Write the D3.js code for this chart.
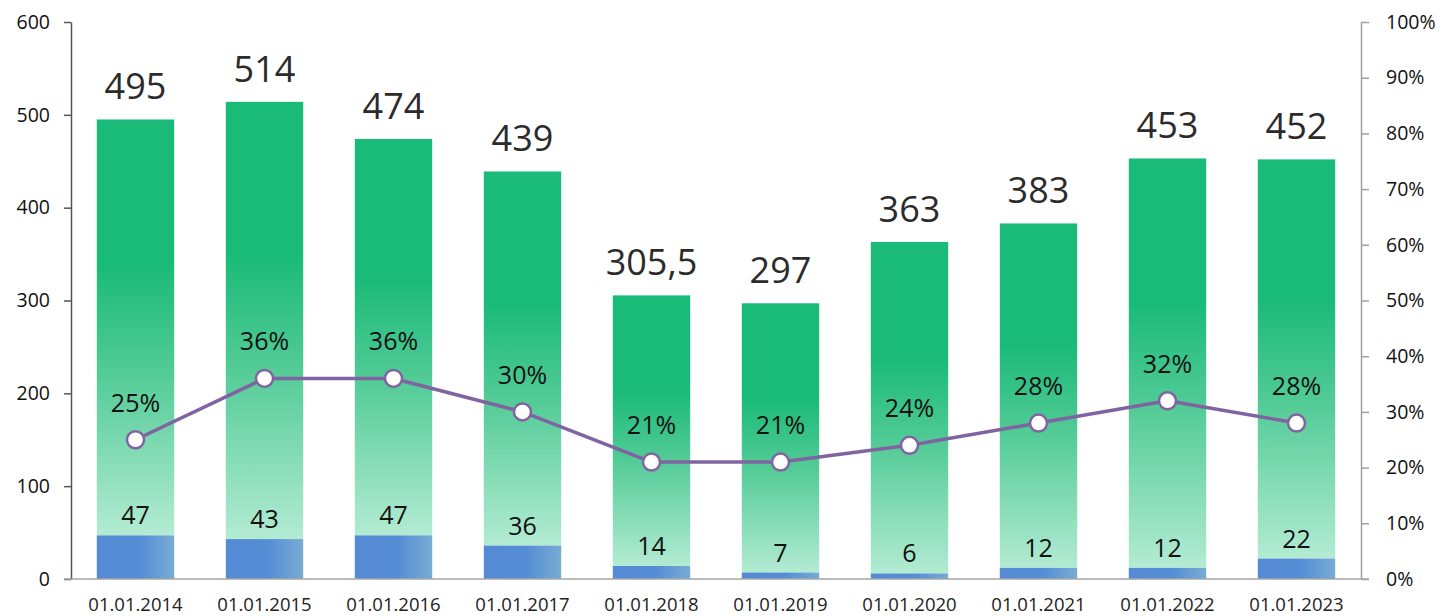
<!DOCTYPE html>
<html>
<head>
<meta charset="utf-8">
<script src="https://cdn.jsdelivr.net/npm/d3@7"></script>
<style>
  html, body { margin: 0; padding: 0; background: #fff; }
  svg { display: block; font-family: "Open Sans", sans-serif; }
</style>
</head>
<body>
<svg id="chart" width="1447" height="616"></svg>
<script>
// Dates of each observation
const categories = ["01.01.2014", "01.01.2015", "01.01.2016", "01.01.2017", "01.01.2018",
                    "01.01.2019", "01.01.2020", "01.01.2021", "01.01.2022", "01.01.2023"];
// Total volume (full bar height)
const totals = [495, 514, 474, 439, 305.5, 297, 363, 383, 453, 452];
// Bottom segment of each bar
const baseValues = [47, 43, 47, 36, 14, 7, 6, 12, 12, 22];
// Share, plotted on the right axis
const shares = [0.25, 0.36, 0.36, 0.30, 0.21, 0.21, 0.24, 0.28, 0.32, 0.28];
// Axis ticks
const leftTicks = [0, 100, 200, 300, 400, 500, 600];
const rightTicks = [0, 0.1, 0.2, 0.3, 0.4, 0.5, 0.6, 0.7, 0.8, 0.9, 1.0];

const svg = d3.select("#chart");
const plot = { left: 71, right: 1361, top: 22, bottom: 579 };

const x = d3.scaleBand().domain(categories).range([plot.left, plot.right])
  .paddingInner(0.4).paddingOuter(0.2);
const y = d3.scaleLinear().domain([0, 600]).range([plot.bottom, plot.top]);
const yP = d3.scaleLinear().domain([0, 1]).range([plot.bottom, plot.top]);

const fmtNum = v => String(v).replace(".", ",");

// Gradients
const defs = svg.append("defs");
const gGreen = defs.append("linearGradient").attr("id", "gradGreen")
  .attr("x1", 0).attr("y1", 0).attr("x2", 0).attr("y2", 1);
gGreen.append("stop").attr("offset", "0").attr("stop-color", "#1aba78");
gGreen.append("stop").attr("offset", "0.35").attr("stop-color", "#1aba78");
gGreen.append("stop").attr("offset", "0.62").attr("stop-color", "#55cc98");
gGreen.append("stop").attr("offset", "1").attr("stop-color", "#b3ebd3");

const gBlue = defs.append("linearGradient").attr("id", "gradBlue")
  .attr("x1", 0).attr("y1", 0).attr("x2", 1).attr("y2", 0);
gBlue.append("stop").attr("offset", "0").attr("stop-color", "#558bd4");
gBlue.append("stop").attr("offset", "0.55").attr("stop-color", "#558dd5");
gBlue.append("stop").attr("offset", "1").attr("stop-color", "#78acd3");

const rows = categories.map((c, i) => ({ c, total: totals[i], base: baseValues[i], share: shares[i] }));

// Upper (green) segment
svg.append("g").selectAll("rect").data(rows).join("rect")
  .attr("x", d => x(d.c))
  .attr("width", x.bandwidth())
  .attr("y", d => y(d.total))
  .attr("height", d => y(d.base) - y(d.total))
  .attr("fill", "url(#gradGreen)");

// Lower (blue) segment
svg.append("g").selectAll("rect").data(rows).join("rect")
  .attr("x", d => x(d.c))
  .attr("width", x.bandwidth())
  .attr("y", d => y(d.base))
  .attr("height", d => y(0) - y(d.base))
  .attr("fill", "url(#gradBlue)");

// Left axis
const axL = svg.append("g").attr("transform", `translate(${plot.left},0)`)
  .call(d3.axisLeft(y).tickValues(leftTicks).tickSize(7).tickPadding(14).tickSizeOuter(0));
axL.select(".domain").attr("stroke", "#555").attr("stroke-width", 1.5);
axL.selectAll(".tick line").attr("stroke", "#555").attr("stroke-width", 1.5);
axL.selectAll(".tick text").attr("fill", "#111").style("font-size", "19.5px")
  .style("font-family", "'Open Sans', sans-serif");

// Right axis
const axR = svg.append("g").attr("transform", `translate(${plot.right},0)`)
  .call(d3.axisRight(yP).tickValues(rightTicks).tickFormat(d3.format(".0%")).tickSize(8).tickPadding(17).tickSizeOuter(0));
axR.select(".domain").attr("stroke", "#a0a0a0").attr("stroke-width", 1.5);
axR.selectAll(".tick line").attr("stroke", "#a0a0a0").attr("stroke-width", 1.5);
axR.selectAll(".tick text").attr("fill", "#111").style("font-size", "19.5px")
  .style("font-family", "'Open Sans', sans-serif");

// Baseline
svg.append("line")
  .attr("x1", plot.left - 7).attr("x2", plot.right + 8)
  .attr("y1", y(0)).attr("y2", y(0))
  .attr("stroke", "#a6a6a6").attr("stroke-width", 1.5);

// Category labels
svg.append("g").selectAll("text").data(rows).join("text")
  .attr("x", d => x(d.c) + x.bandwidth() / 2)
  .attr("y", 611)
  .attr("text-anchor", "middle")
  .attr("fill", "#222")
  .style("font-size", "18.5px")
  .text(d => d.c);

// Totals above bars
svg.append("g").selectAll("text").data(rows).join("text")
  .attr("x", d => x(d.c) + x.bandwidth() / 2)
  .attr("y", d => y(d.total) - 20)
  .attr("text-anchor", "middle")
  .attr("fill", "#2b2b2b")
  .style("font-size", "36px")
  .text(d => fmtNum(d.total));

// Lower segment values
svg.append("g").selectAll("text").data(rows).join("text")
  .attr("x", d => x(d.c) + x.bandwidth() / 2)
  .attr("y", d => y(d.base) - 11)
  .attr("text-anchor", "middle")
  .attr("fill", "#111")
  .style("font-size", "25px")
  .text(d => fmtNum(d.base));

// Share line
const cx = d => x(d.c) + x.bandwidth() / 2;
svg.append("path").datum(rows)
  .attr("fill", "none")
  .attr("stroke", "#8064a2")
  .attr("stroke-width", 3.5)
  .attr("stroke-linejoin", "round")
  .attr("d", d3.line().x(cx).y(d => yP(d.share)));

svg.append("g").selectAll("circle").data(rows).join("circle")
  .attr("cx", cx)
  .attr("cy", d => yP(d.share))
  .attr("r", 8.5)
  .attr("fill", "#fff")
  .attr("stroke", "#8064a2")
  .attr("stroke-width", 2.5);

svg.append("g").selectAll("text").data(rows).join("text")
  .attr("x", cx)
  .attr("y", d => yP(d.share) - 28)
  .attr("text-anchor", "middle")
  .attr("fill", "#111")
  .style("font-size", "25px")
  .text(d => d3.format(".0%")(d.share));
</script>
</body>
</html>
